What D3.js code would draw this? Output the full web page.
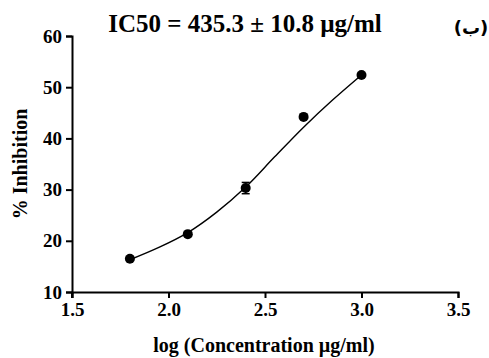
<!DOCTYPE html>
<html><head><meta charset="utf-8">
<script src="https://cdn.jsdelivr.net/npm/d3@7"></script>
<style>body{margin:0;background:#fff}svg{display:block}svg text{font-family:"Liberation Serif","Times New Roman",serif;font-weight:bold;fill:#000}</style>
</head><body><svg id="c" width="489" height="358"></svg>
<script>
const logConc = [1.8, 2.1, 2.4, 2.7, 3.0];
const inhibition = [16.5, 21.3, 30.3, 44.2, 52.4];
const errors = [0.4, 0.4, 1.1, 0.4, 0.4];
const fitX = [1.8, 1.95, 2.1, 2.25, 2.4, 2.55, 2.7, 2.85, 3.0];
const fitY = [16.3, 18.7, 21.6, 25.6, 30.5, 36.4, 42.2, 47.5, 52.4];
const xTicks = [1.5, 2.0, 2.5, 3.0, 3.5];
const yTicks = [10, 20, 30, 40, 50, 60];

const svg = d3.select("#c");
const x = d3.scaleLinear().domain([1.5, 3.5]).range([72, 458]);
const y = d3.scaleLinear().domain([10, 60]).range([292, 36]);

const xa = svg.append("g").attr("transform","translate(0,292)")
  .call(d3.axisBottom(x).tickValues(xTicks).tickFormat(d3.format(".1f")).tickSizeOuter(0).tickSize(6).tickPadding(5));
const ya = svg.append("g").attr("transform","translate(72,0)")
  .call(d3.axisLeft(y).tickValues(yTicks).tickSizeOuter(0).tickSize(6).tickPadding(4));
[xa, ya].forEach(a => {
  a.attr("font-family", "Liberation Serif").attr("font-size", 19);
  a.selectAll("path.domain").attr("stroke","#000").attr("stroke-width",2);
  a.selectAll(".tick line").attr("stroke","#000").attr("stroke-width",2);
  a.selectAll(".tick text").style("font-size","19px").attr("fill","#000");
});
svg.append("line").attr("x1",72).attr("x2",72).attr("y1",292).attr("y2",298).attr("stroke","#000").attr("stroke-width",2);

const line = d3.line().x((d,i)=>x(fitX[i])).y(d=>y(d)).curve(d3.curveCatmullRom);
svg.append("path").datum(fitY).attr("d",line).attr("fill","none").attr("stroke","#000").attr("stroke-width",1.4);

const pts = logConc.map((v,i)=>({x:v,y:inhibition[i],e:errors[i]}));
const eb = svg.append("g");
pts.forEach(p => {
  if (p.e > 0.6) {
    eb.append("line").attr("x1",x(p.x)).attr("x2",x(p.x)).attr("y1",y(p.y+p.e)).attr("y2",y(p.y-p.e)).attr("stroke","#000").attr("stroke-width",1.5);
    [p.y+p.e, p.y-p.e].forEach(v => eb.append("line").attr("x1",x(p.x)-4).attr("x2",x(p.x)+4).attr("y1",y(v)).attr("y2",y(v)).attr("stroke","#000").attr("stroke-width",1.5));
  }
});
svg.append("g").selectAll("circle").data(pts).join("circle")
  .attr("cx",d=>x(d.x)).attr("cy",d=>y(d.y)).attr("r",5).attr("fill","#000");

svg.append("text").attr("x",245).attr("y",32).attr("text-anchor","middle").style("font-size","25px").text("IC50 = 435.3 ± 10.8 µg/ml");
svg.append("text").attr("x",471).attr("y",34).attr("text-anchor","middle").style("font-family","'DejaVu Sans',sans-serif").style("font-size","18px").attr("direction","rtl").text("(ب)");
svg.append("text").attr("x",264).attr("y",352).attr("text-anchor","middle").style("font-size","20px").text("log (Concentration µg/ml)");
svg.append("text").attr("transform","translate(27,164) rotate(-90)").attr("text-anchor","middle").style("font-size","20px").text("% Inhibition");
</script></body></html>
